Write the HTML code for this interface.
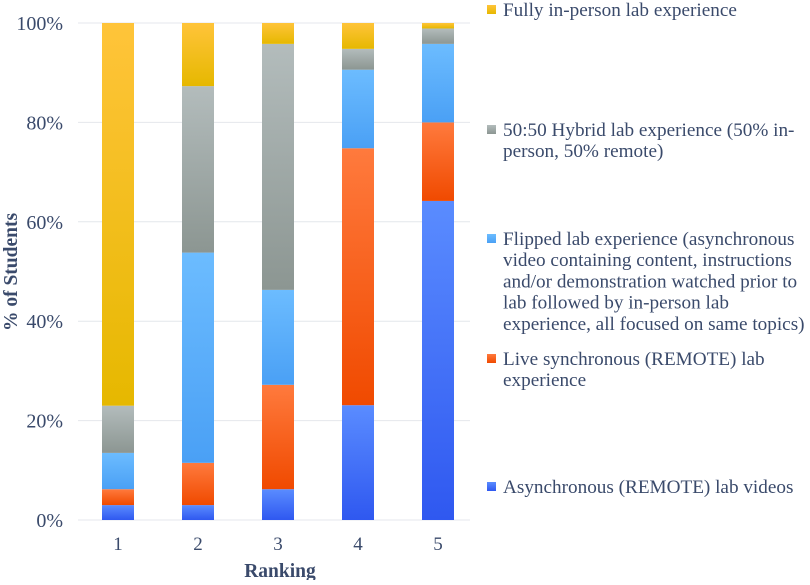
<!DOCTYPE html>
<html><head><meta charset="utf-8"><style>
body{margin:0;background:#fff;}
svg{font-family:"Liberation Serif",serif;}
</style></head><body>
<svg id="c" width="810" height="580">
<defs>
<linearGradient id="g0" x1="0" y1="0" x2="0" y2="1"><stop offset="0" stop-color="#5a8cff"/><stop offset="1" stop-color="#2f58f0"/></linearGradient>
<linearGradient id="g1" x1="0" y1="0" x2="0" y2="1"><stop offset="0" stop-color="#ff7a3d"/><stop offset="1" stop-color="#f04a00"/></linearGradient>
<linearGradient id="g2" x1="0" y1="0" x2="0" y2="1"><stop offset="0" stop-color="#6cbcff"/><stop offset="1" stop-color="#4aa0f5"/></linearGradient>
<linearGradient id="g3" x1="0" y1="0" x2="0" y2="1"><stop offset="0" stop-color="#b3bcbc"/><stop offset="1" stop-color="#8c9692"/></linearGradient>
<linearGradient id="g4" x1="0" y1="0" x2="0" y2="1"><stop offset="0" stop-color="#ffc43a"/><stop offset="1" stop-color="#e6b800"/></linearGradient>
</defs>
<g id="grid"></g><g id="bars"></g><g id="axes"></g><g id="legend"></g>
</svg>
<script>
const categories=["1","2","3","4","5"];
const asyncVideos=[3,3,6.2,23.1,64.2];
const liveSync=[3.2,8.5,21,51.7,15.8];
const flipped=[7.3,42.3,19.1,15.8,15.8];
const hybrid=[9.5,33.5,49.5,4.2,3.1];
const inPerson=[77,12.7,4.2,5.2,1.1];
const yTicks=[0,20,40,60,80,100];
const series=[asyncVideos,liveSync,flipped,hybrid,inPerson];
const NS="http://www.w3.org/2000/svg";
const y=v=>520-v*4.97;
const x=i=>118+i*80;
function mk(t,a,p){const e=document.createElementNS(NS,t);for(const k in a)e.setAttribute(k,a[k]);p.appendChild(e);return e;}
const grid=document.getElementById('grid'),bars=document.getElementById('bars'),axes=document.getElementById('axes');
yTicks.forEach(t=>{
 const l=mk('line',{x1:78,x2:470,y1:y(t),y2:y(t),stroke:'#e4e7ec','stroke-width':1},grid);
 
 
 const tx=mk('text',{x:63,y:y(t)+7,'text-anchor':'end','font-size':20,fill:'#3a4a6b'},axes);tx.textContent=t+'%';
 
 
});
categories.forEach((c,i)=>{
 let base=0;
 series.forEach((s,k)=>{
  const r=mk('rect',{x:x(i)-16,y:y(base+s[i]),width:32,height:y(base)-y(base+s[i]),fill:'url(#g'+k+')'},bars);
  
  
  base+=s[i];
 });
 const tx=mk('text',{x:x(i),y:550,'text-anchor':'middle','font-size':19,fill:'#3a4a6b'},axes);tx.textContent=c;
 
 
});
const xt=mk('text',{x:280,y:577,'text-anchor':'middle','font-size':19.5,'font-weight':'bold',fill:'#3a4a6b'},axes);xt.textContent='Ranking';


const yt=mk('text',{x:0,y:0,transform:'translate(17,272) rotate(-90)','text-anchor':'middle','font-size':19.5,'font-weight':'bold',fill:'#3a4a6b'},axes);yt.textContent='% of Students';


const leg=document.getElementById('legend');
const legLines=[
 [["Asynchronous (REMOTE) lab videos"],486],
 [["Live synchronous (REMOTE) lab","experience"],358],
 [["Flipped lab experience (asynchronous","video containing content, instructions","and/or demonstration watched prior to","lab followed by in-person lab","experience, all focused on same topics)"],238],
 [["50:50 Hybrid lab experience (50% in-","person, 50% remote)"],129],
 [["Fully in-person lab experience"],9]
];
legLines.forEach((e,k)=>{
 const g=mk('g',{},leg);
 
 
 mk('rect',{x:487,y:e[1]-4,width:9,height:9,fill:'url(#g'+k+')'},g);
 e[0].forEach((s,j)=>{const t=mk('text',{x:503,y:e[1]+7+j*21.2,'font-size':19.2,fill:'#3a4a6b'},g);t.textContent=s;});
});
</script>
</body></html>
